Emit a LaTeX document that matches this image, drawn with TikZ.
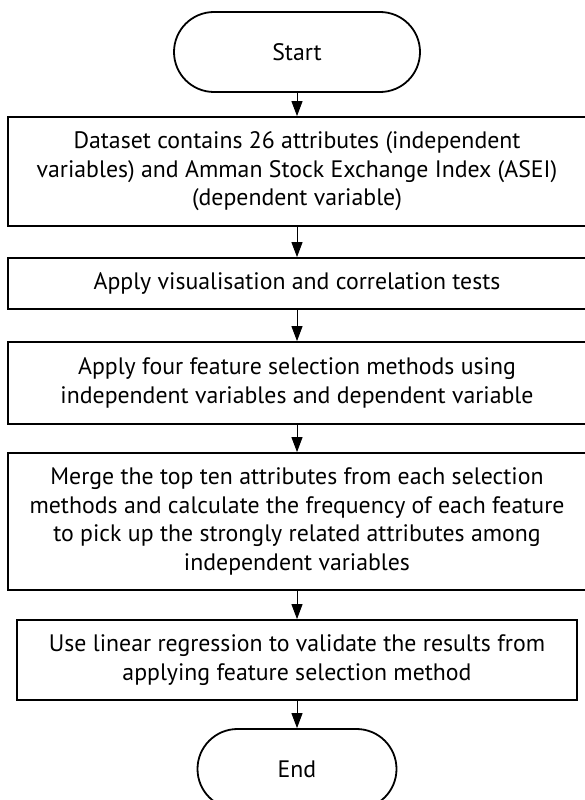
\documentclass[tikz,border=0pt]{standalone}
\usepackage{fontspec}
\setmainfont{PT Sans}
\usetikzlibrary{arrows.meta}
\begin{document}
\begin{tikzpicture}[x=1pt,y=-1pt,
  box/.style={draw, line width=1.8pt, align=center, inner sep=0pt, font=\fontsize{23.8}{28.5}\selectfont},
  term/.style={box, rounded corners=40pt, minimum height=80pt},
  flow/.style={-{Triangle[width=11pt,length=15pt]}, line width=1pt}]
\useasboundingbox (0,0) rectangle (584,800);
\node[term, minimum width=246pt] (start) at (297,52) {Start};
\node[box, minimum width=578pt, minimum height=109pt] (b1) at (297,171.5) {Dataset contains 26 attributes (independent\\variables) and Amman Stock Exchange Index (ASEI)\\(dependent variable)};
\node[box, minimum width=578pt, minimum height=51pt] (b2) at (297,283.5) {Apply visualisation and correlation tests};
\node[box, minimum width=578pt, minimum height=82pt] (b3) at (297,383) {Apply four feature selection methods using\\independent variables and dependent variable};
\node[box, minimum width=578pt, minimum height=137pt] (b4) at (297,521.5) {Merge the top ten attributes from each selection\\methods and calculate the frequency of each feature\\to pick up the strongly related attributes among\\independent variables};
\node[box, minimum width=560pt, minimum height=80pt] (b5) at (297,660) {Use linear regression to validate the results from\\applying feature selection method};
\node[term, minimum width=199pt] (end) at (297,769) {End};
\draw[flow] (start) -- (b1);
\draw[flow] (b1) -- (b2);
\draw[flow] (b2) -- (b3);
\draw[flow] (b3) -- (b4);
\draw[flow] (b4) -- (b5);
\draw[flow] (b5) -- (end);
\end{tikzpicture}
\end{document}
